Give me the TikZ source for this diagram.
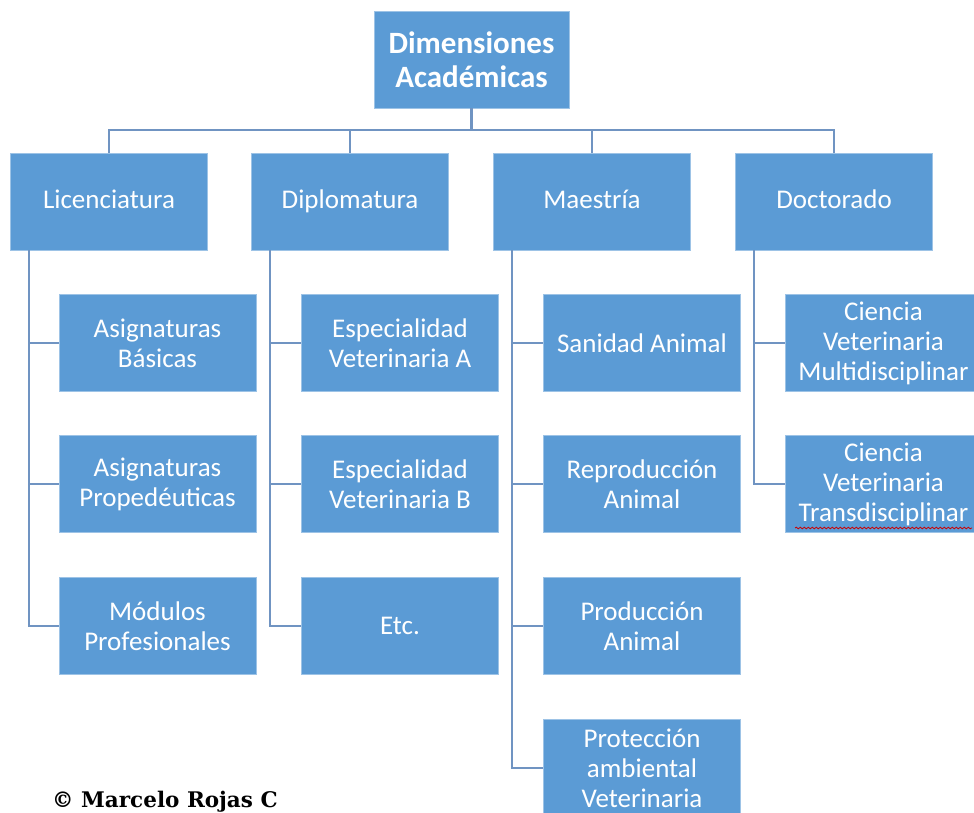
\documentclass[tikz,border=0pt]{standalone}
\usepackage{fontspec}
\setmainfont{Carlito}
\newfontfamily\copyfont{DejaVu Serif}
\usetikzlibrary{decorations.pathmorphing}
\definecolor{boxblue}{RGB}{91,155,213}
\definecolor{linkblue}{RGB}{112,148,194}
\tikzset{
  box/.style={fill=boxblue, draw=boxblue!60!white, line width=0.8pt, text=white,
    minimum width=197pt, minimum height=97pt, inner sep=0pt, align=center,
    font=\fontsize{27}{30}\selectfont},
  lvbox/.style={box, text height=18pt, text depth=5pt},
  topbox/.style={box, minimum width=195pt, font=\bfseries\fontsize{31}{34}\selectfont},
  link/.style={draw=linkblue, line width=2.6pt},
}
\begin{document}
\begin{tikzpicture}[x=1pt,y=-1pt]
\useasboundingbox (0,0) rectangle (974,812);
% top
\node[topbox] (top) at (471.5,59.5) {Dimensiones\\Académicas};
% level 2
\node[lvbox] (lic) at (109,201.5) {Licenciatura};
\node[lvbox] (dip) at (350,201.5) {Diplomatura};
\node[lvbox] (mae) at (592,201.5) {Maestría};
\node[lvbox] (doc) at (834,201.5) {Doctorado};
\coordinate (bus) at (471,130);
% children Licenciatura
\node[box] (l1) at (157.5,343) {Asignaturas\\Básicas};
\node[box] (l2) at (157.5,484) {Asignaturas\\Propedéuticas};
\node[box] (l3) at (157.5,626) {Módulos\\Profesionales};
% Diplomatura
\node[box] (d1) at (400,343) {Especialidad\\Veterinaria A};
\node[box] (d2) at (400,484) {Especialidad\\Veterinaria B};
\node[box] (d3) at (400,626) {Etc.};
% Maestria
\node[box] (m1) at (642,343) {Sanidad Animal};
\node[box] (m2) at (642,484) {Reproducción\\Animal};
\node[box] (m3) at (642,626) {Producción\\Animal};
\node[box] (m4) at (642,768) {Protección\\ambiental\\Veterinaria};
% Doctorado
\node[box] (o1) at (883.5,343) {Ciencia\\Veterinaria\\Multidisciplinar};
\node[box] (o2) at (883.5,484) {Ciencia\\Veterinaria\\Transdisciplinar};
\draw[red!80!black, line width=0.8pt, decorate, decoration={snake, amplitude=0.8pt, segment length=4pt}]
  (795,528) -- (972,528);
% connectors top
\foreach \n in {lic,dip,mae,doc}
  \draw[link] (top.south) -- (top.south |- bus) -| (\n.north);
% trunks
\coordinate (lt) at ([xshift=19pt]lic.south west);
\coordinate (dt) at ([xshift=19pt]dip.south west);
\coordinate (mt) at ([xshift=19pt]mae.south west);
\coordinate (ot) at ([xshift=19pt]doc.south west);
\foreach \c in {l1,l2,l3} \draw[link] (lt) |- (\c.west);
\foreach \c in {d1,d2,d3} \draw[link] (dt) |- (\c.west);
\foreach \c in {m1,m2,m3,m4} \draw[link] (mt) |- (\c.west);
\foreach \c in {o1,o2} \draw[link] (ot) |- (\c.west);
% copyright
\node[anchor=base west, inner sep=0pt, font=\copyfont\bfseries\fontsize{21.5}{24}\selectfont] (copy) at (52,807) {© Marcelo Rojas C};
\end{tikzpicture}
\end{document}
